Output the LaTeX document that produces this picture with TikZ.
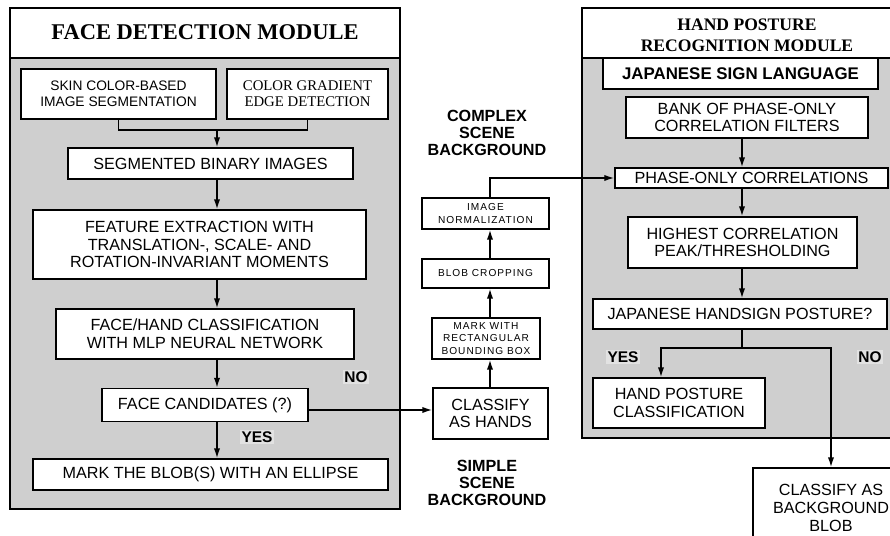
\documentclass[tikz,border=0pt]{standalone}
\usepackage{fontspec}
\setmainfont{Liberation Sans}
\newfontfamily\serifface{Liberation Serif}
\usetikzlibrary{arrows.meta}
\definecolor{modfill}{RGB}{207,207,207}
\definecolor{labfill}{RGB}{226,226,226}
\begin{document}
\begin{tikzpicture}[x=0.025cm,y=-0.025cm,
                module/.style={draw,line width=1.3pt,fill=modfill},
                titlebar/.style={draw,line width=1.3pt,fill=white},
                stepbox/.style={draw,line width=1.2pt,fill=white,inner sep=0pt,align=center,
                    font=\fontsize{11.5}{12.5}\selectfont},
                smallbox/.style={stepbox,font=\fontsize{7.2}{8.8}\selectfont\addfontfeature{LetterSpace=10}},
                flow/.style={line width=1pt,-{Latex[length=7pt,width=4.5pt]}},
                wire/.style={line width=1pt},
                answer/.style={font=\fontsize{11}{11}\selectfont\bfseries,fill=labfill,inner sep=1pt},
                scenetext/.style={font=\fontsize{11.5}{12}\selectfont\bfseries,align=center},
                moduletitle/.style={align=center,font=\serifface\bfseries\fontsize{12.5}{15}\selectfont}]
                \useasboundingbox (0,0) rectangle (890,536);
                \clip (0,0) rectangle (890,536);
                
                % Drawing face detection module
                \draw [module] (10,8) rectangle (400,509);%
                \draw [titlebar] (10,8) rectangle (400,58);%
                \node [moduletitle,font=\serifface\bfseries\fontsize{16}{16}\selectfont] (facetitle) at (205,32) {FACE DETECTION MODULE};%
                
                % Drawing hand posture module
                \draw [module] (582,8) rectangle (905,438);%
                \draw [titlebar] (582,8) rectangle (905,58);%
                \node [moduletitle] (handtitle) at (747,35) {HAND POSTURE\\RECOGNITION MODULE};%
                
                % Marking column coordinates
                \coordinate (colA) at (217,0);%
                \coordinate (colB) at (490,0);%
                \coordinate (colC) at (742,0);%
                \coordinate (yescol) at (661,0);%
                \coordinate (noline) at (0,410);%
                \coordinate (merge) at (217,130);%
                \coordinate (split) at (742,348);%
                
                % Marking face detection steps
                \node [stepbox,minimum width=4.875cm,minimum height=1.25cm,font=\fontsize{9.8}{11.2}\selectfont] (skin) at (118.5,94) {SKIN COLOR-BASED\\IMAGE SEGMENTATION};%
                \node [stepbox,minimum width=4.025cm,minimum height=1.25cm,font=\serifface\fontsize{10.5}{11.5}\selectfont] (grad) at (307.5,94) {COLOR GRADIENT\\EDGE DETECTION};%
                \node [stepbox,minimum width=7.125cm,minimum height=0.775cm] (seg) at (210.5,163.5) {SEGMENTED BINARY IMAGES};%
                \node [stepbox,minimum width=8.325cm,minimum height=1.725cm] (feat) at (199.5,244.5) {FEATURE EXTRACTION WITH\\TRANSLATION-, SCALE- AND\\ROTATION-INVARIANT MOMENTS};%
                \node [stepbox,minimum width=7.45cm,minimum height=1.25cm] (mlp) at (205,334) {FACE/HAND CLASSIFICATION\\WITH MLP NEURAL NETWORK};%
                \node [stepbox,minimum width=5.15cm,minimum height=0.825cm] (cand) at (205,405) {FACE CANDIDATES (?)};%
                \node [stepbox,minimum width=8.875cm,minimum height=0.775cm] (ellipse) at (210.5,474.5) {MARK THE BLOB(S) WITH AN ELLIPSE};%
                
                % Marking hand steps of the middle column
                \node [stepbox,minimum width=2.875cm,minimum height=1.275cm] (hands) at (490.5,413.5) {CLASSIFY\\AS HANDS};%
                \node [smallbox,minimum width=2.7cm,minimum height=1.025cm] (bbox) at (486,338.5) {MARK WITH\\RECTANGULAR\\BOUNDING BOX};%
                \node [smallbox,minimum width=3.175cm,minimum height=0.725cm] (crop) at (485.5,273.5) {BLOB CROPPING};%
                \node [smallbox,minimum width=3.175cm,minimum height=0.775cm] (norm) at (485.5,213.5) {IMAGE\\NORMALIZATION};%
                
                % Marking hand posture steps
                \node [stepbox,minimum width=6.875cm,minimum height=0.775cm,font=\fontsize{12}{12}\selectfont\bfseries] (jsl) at (740.5,73.5) {JAPANESE SIGN LANGUAGE};%
                \node [stepbox,minimum width=6.05cm,minimum height=1.025cm] (bank) at (747,117.5) {BANK OF PHASE-ONLY\\CORRELATION FILTERS};%
                \node [stepbox,minimum width=6.825cm,minimum height=0.5cm] (pcorr) at (751.5,178) {PHASE-ONLY CORRELATIONS};%
                \node [stepbox,minimum width=5.725cm,minimum height=1.275cm] (peak) at (742.5,242.5) {HIGHEST CORRELATION\\PEAK/THRESHOLDING};%
                \node [stepbox,minimum width=7.35cm,minimum height=0.75cm] (handsign) at (740,314) {JAPANESE HANDSIGN POSTURE?};%
                \node [stepbox,minimum width=4.3cm,minimum height=1.25cm] (posture) at (679,403) {HAND POSTURE\\CLASSIFICATION};%
                \node [stepbox,minimum width=3.9cm,minimum height=2cm,font=\fontsize{11.5}{13}\selectfont] (bgblob) at (831,508) {CLASSIFY AS\\BACKGROUND\\BLOB};%
                
                % Marking scene labels
                \node [scenetext] (complex) at (487,133) {COMPLEX\\SCENE\\BACKGROUND};%
                \node [scenetext] (simple) at (487,483) {SIMPLE\\SCENE\\BACKGROUND};%
                
                % Drawing face detection flow
                \draw [wire] (skin.south) |- (merge) -| (grad.south);%
                \draw [flow] (merge) -- (merge |- seg.north);%
                \draw [flow] (seg.south -| colA) -- (feat.north -| colA);%
                \draw [flow] (feat.south -| colA) -- (mlp.north -| colA);%
                \draw [flow] (mlp.south -| colA) -- (cand.north -| colA);%
                \draw [flow] (cand.south -| colA) -- (ellipse.north -| colA);%
                \draw [flow] (cand.east |- noline) -- (hands.west |- noline);%
                
                % Drawing middle column flow
                \draw [flow] (hands.north -| colB) -- (bbox.south -| colB);%
                \draw [flow] (bbox.north -| colB) -- (crop.south -| colB);%
                \draw [flow] (crop.north -| colB) -- (norm.south -| colB);%
                \draw [flow] (norm.north -| colB) |- (pcorr.west);%
                
                % Drawing hand posture flow
                \draw [flow] (bank.south -| colC) -- (pcorr.north -| colC);%
                \draw [flow] (pcorr.south -| colC) -- (peak.north -| colC);%
                \draw [flow] (peak.south -| colC) -- (handsign.north -| colC);%
                \draw [wire] (handsign.south -| colC) -- (split);%
                \draw [flow] (split) -| (posture.north -| yescol);%
                \draw [flow] (split) -| (bgblob.north);%
                
                % Marking answers
                \node [answer] (faceno) at (356,377) {NO};%
                \node [answer] (faceyes) at (257,437) {YES};%
                \node [answer] (handyes) at (623,357) {YES};%
                \node [answer] (handno) at (870,357) {NO};%
                \end{tikzpicture}
\end{document}
